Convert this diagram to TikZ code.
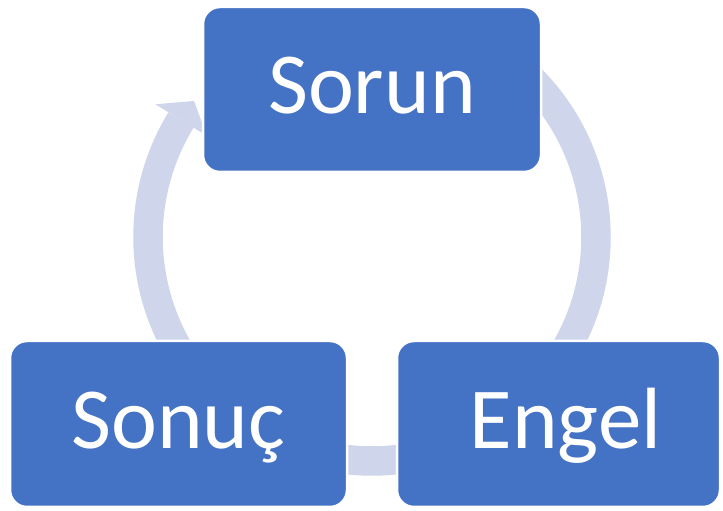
\documentclass[tikz,border=0pt]{standalone}
\usepackage{fontspec}
\setmainfont{Carlito}
\usetikzlibrary{calc}
\definecolor{boxblue}{HTML}{4472C4}
\definecolor{arrowc}{HTML}{CFD5EA}
\begin{document}
\begin{tikzpicture}[x=1pt,y=1pt,
  cyclebox/.style={draw=white, line width=2.5pt, fill=boxblue, rounded corners=17pt,
    text=white, font=\fontsize{87}{104}\selectfont, text height=61pt, text depth=12pt,
    inner sep=0pt, align=center},
  arrowline/.style={draw=arrowc, line width=29.5pt}
]
\useasboundingbox (0,0) rectangle (723,511);
\coordinate (c) at (372,274);
% arrows (behind boxes)
\draw[arrowline] ([shift={(215:224pt)}]c) arc[start angle=215, end angle=148.5, radius=224pt];
\fill[arrowc] ([shift={(148.5:254pt)}]c) -- ([shift={(142.6:224pt)}]c) -- ([shift={(148.5:194pt)}]c) -- cycle;
\draw[arrowline] ([shift={(50:224pt)}]c) arc[start angle=50, end angle=-35, radius=224pt];
\draw[arrowline] ([shift={(-75:224pt)}]c) arc[start angle=-75, end angle=-105, radius=224pt];
% boxes
\node[cyclebox, minimum width=338pt, minimum height=165pt] (sorun) at (372,421.5) {Sorun};
\node[cyclebox, minimum width=337pt, minimum height=166pt] (sonuc) at (178.5,87) {Sonuç};
\node[cyclebox, minimum width=323pt, minimum height=166pt] (engel) at (558.5,87) {\hspace*{14pt}Engel};
\end{tikzpicture}
\end{document}
